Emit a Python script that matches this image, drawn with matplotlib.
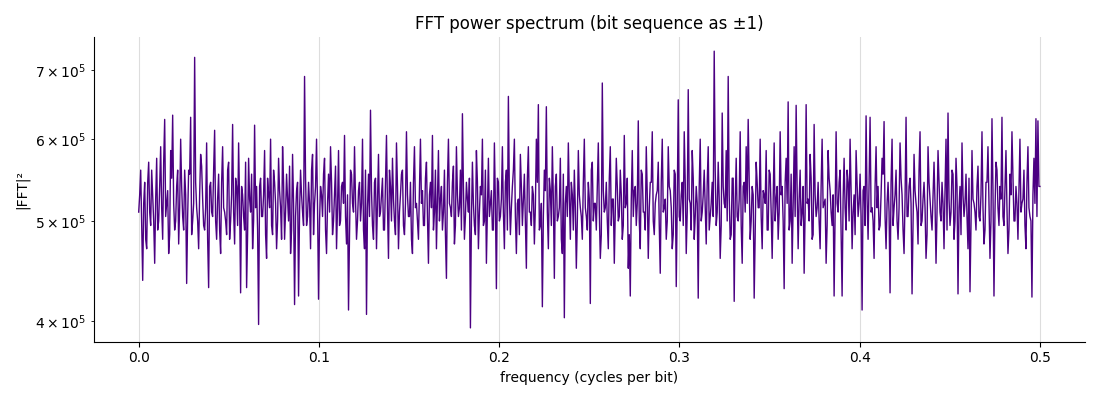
#!/usr/bin/env python3
# spectrum of a +-1 bit sequence, log y axis
# values, in units of 1000

import numpy as np
import matplotlib
matplotlib.use("Agg")
import matplotlib.pyplot as plt

# frequency range (cycles per bit)
f_start = 0.0
f_stop = 0.5

# power values |FFT|^2 in thousands, the outer spikes (even bins)
power_k = [
    510, 560, 438, 545, 470, 570, 495, 530, 455, 575, 500, 590, 480, 627, 520, 465, 585, 633, 490, 540,
    475, 600, 505, 560, 435, 560, 630, 500, 720, 515, 470, 580, 525, 490, 595, 431, 545, 505, 612, 480,
    555, 465, 590, 510, 485, 570, 500, 620, 475, 540, 595, 426, 530, 490, 431, 575, 510, 470, 619, 540,
    397, 550, 505, 585, 460, 530, 600, 485, 545, 470, 575, 515, 590, 480, 555, 500, 465, 580, 415, 535,
    423, 560, 510, 690, 495, 545, 470, 580, 520, 600, 420, 540, 505, 575, 465, 555, 590, 485, 530, 470,
    585, 500, 545, 605, 475, 410, 560, 520, 590, 480, 535, 500, 600, 470, 406, 555, 640, 495, 545, 470,
    580, 510, 550, 490, 605, 460, 540, 575, 500, 595, 470, 530, 560, 485, 610, 505, 545, 465, 590, 520,
    480, 600, 535, 495, 570, 455, 545, 605, 510, 470, 585, 525, 490, 560, 440, 600, 515, 545, 475, 590,
    505, 560, 635, 480, 545, 510, 394, 570, 495, 585, 470, 540, 600, 500, 455, 575, 520, 490, 595, 430,
    545, 505, 590, 470, 560, 660, 485, 540, 600, 465, 525, 580, 495, 555, 450, 590, 510, 540, 475, 600,
    648, 495, 413, 560, 645, 470, 535, 590, 440, 555, 505, 575, 465, 403, 540, 595, 480, 530, 560, 450,
    585, 515, 480, 600, 505, 545, 416, 570, 520, 490, 595, 460, 680, 510, 545, 470, 590, 525, 455, 575,
    500, 560, 480, 605, 520, 450, 423, 585, 535, 495, 625, 470, 555, 510, 590, 460, 545, 610, 485, 530,
    570, 445, 600, 515, 480, 590, 535, 470, 560, 432, 655, 500, 545, 610, 465, 670, 520, 585, 480, 540,
    421, 600, 510, 560, 475, 590, 505, 545, 730, 495, 570, 460, 636, 520, 585, 690, 480, 550, 418, 575,
    500, 610, 455, 545, 590, 627, 480, 540, 421, 570, 515, 600, 470, 530, 585, 490, 555, 460, 595, 525,
    480, 610, 540, 430, 575, 652, 500, 455, 590, 647, 470, 560, 510, 445, 648, 525, 580, 480, 620, 505,
    545, 470, 600, 520, 455, 585, 535, 495, 423, 610, 510, 560, 423, 575, 490, 545, 600, 470, 530, 585,
    505, 555, 410, 540, 632, 480, 630, 515, 460, 590, 540, 495, 575, 624, 470, 545, 426, 600, 515, 560,
    480, 595, 530, 465, 630, 505, 550, 425, 580, 520, 475, 610, 500, 545, 460, 590, 525, 490, 570, 455,
    585, 510, 545, 470, 600, 636, 495, 560, 480, 575, 425, 540, 595, 505, 555, 470, 427, 585, 520, 490,
    565, 500, 610, 475, 545, 590, 460, 628, 423, 570, 515, 540, 630, 495, 585, 465, 555, 610, 500, 540,
    480, 600, 520, 560, 470, 590, 505, 422, 575, 628, 625, 540,
]

# power values in thousands for the bins in between (odd bins), the dense core
power_mid_k = [
    530, 495, 520, 480, 545, 510, 560, 500, 525, 490, 540, 515, 570, 505, 535, 485, 550, 520, 500, 560,
    515, 540, 490, 530, 505, 555, 485, 520, 545, 500, 530, 565, 495, 515, 480, 540, 510, 560, 500, 525,
    490, 545, 515, 500, 560, 480, 530, 510, 550, 495, 520, 540, 505, 570, 485, 525, 555, 500, 515, 490,
    540, 505, 530, 485, 550, 515, 495, 560, 520, 500, 535, 480, 545, 510, 525, 565, 490, 520, 505, 545,
    510, 530, 495, 550, 505, 520, 560, 485, 540, 515, 500, 530, 555, 490, 520, 510, 545, 500, 565, 515,
    495, 540, 520, 505, 530, 485, 555, 510, 525, 500, 545, 520, 490, 560, 515, 505, 535, 480, 550, 520,
    505, 530, 490, 545, 515, 560, 500, 525, 485, 540, 510, 555, 495, 520, 530, 505, 480, 545, 515, 500,
    535, 520, 495, 550, 505, 530, 515, 490, 560, 525, 500, 540, 510, 485, 545, 520, 505, 565, 495, 530,
    515, 490, 540, 505, 525, 550, 500, 520, 485, 545, 510, 530, 495, 560, 515, 505, 535, 490, 520, 550,
    500, 525, 510, 545, 490, 530, 515, 560, 505, 520, 485, 540, 525, 500, 550, 510, 495, 530, 515, 545,
    490, 520, 505, 535, 510, 550, 495, 525, 540, 500, 515, 480, 555, 520, 505, 530, 545, 490, 515, 500,
    530, 505, 545, 515, 490, 525, 560, 500, 520, 540, 510, 485, 535, 515, 500, 550, 495, 525, 510, 540,
    505, 530, 495, 515, 550, 485, 525, 505, 540, 520, 500, 560, 510, 490, 530, 515, 545, 500, 520, 535,
    495, 545, 510, 525, 500, 540, 515, 485, 555, 520, 505, 530, 495, 545, 510, 525, 490, 550, 505, 520,
    540, 500, 530, 515, 545, 490, 520, 505, 560, 510, 525, 495, 540, 515, 500, 530, 485, 550, 520, 505,
    525, 495, 540, 510, 520, 550, 500, 530, 485, 545, 515, 505, 535, 520, 490, 560, 510, 525, 500, 540,
    510, 530, 500, 545, 520, 490, 555, 515, 505, 535, 525, 495, 540, 510, 520, 500, 550, 485, 530, 515,
    500, 540, 515, 525, 495, 550, 510, 530, 505, 520, 545, 490, 525, 515, 560, 500, 535, 510, 485, 545,
    520, 505, 535, 495, 525, 545, 510, 500, 540, 515, 490, 530, 555, 505, 520, 510, 545, 495, 530, 500,
    515, 550, 490, 525, 505, 540, 520, 500, 535, 510, 560, 495, 525, 515, 485, 545, 505, 530, 520, 510,
    545, 500, 520, 535, 490, 525, 510, 555, 500, 540, 515, 485, 530, 520, 505, 550, 495, 525, 510, 540,
    505, 530, 515, 490, 545, 520, 500, 535, 510, 560, 495, 525, 505, 540, 515, 490, 530, 550, 500, 520,
    535, 510, 525, 495, 545, 515, 500, 530, 520, 505, 540,
]

line_color = "indigo"


def main() -> None:
    n = len(power_k) + len(power_mid_k)
    power = np.empty(n)
    power[0::2] = power_k          # spikes on even bins
    power[1::2] = power_mid_k      # core values on odd bins
    power *= 1000.0
    freq = np.linspace(f_start, f_stop, n)

    fig, ax = plt.subplots(figsize=(11, 4), dpi=100)
    ax.plot(freq, power, color=line_color, linewidth=1.0)
    ax.set_yscale("log")
    ax.set_title("FFT power spectrum (bit sequence as ±1)", fontsize=12)
    ax.set_xlabel("frequency (cycles per bit)")
    ax.set_ylabel("|FFT|²")
    ax.grid(axis="x", color="#dddddd", linewidth=0.8)
    ax.set_axisbelow(True)
    ax.spines["top"].set_visible(False)
    ax.spines["right"].set_visible(False)
    fig.tight_layout()
    fig.savefig("out.png", dpi=100)


if __name__ == "__main__":
    main()
